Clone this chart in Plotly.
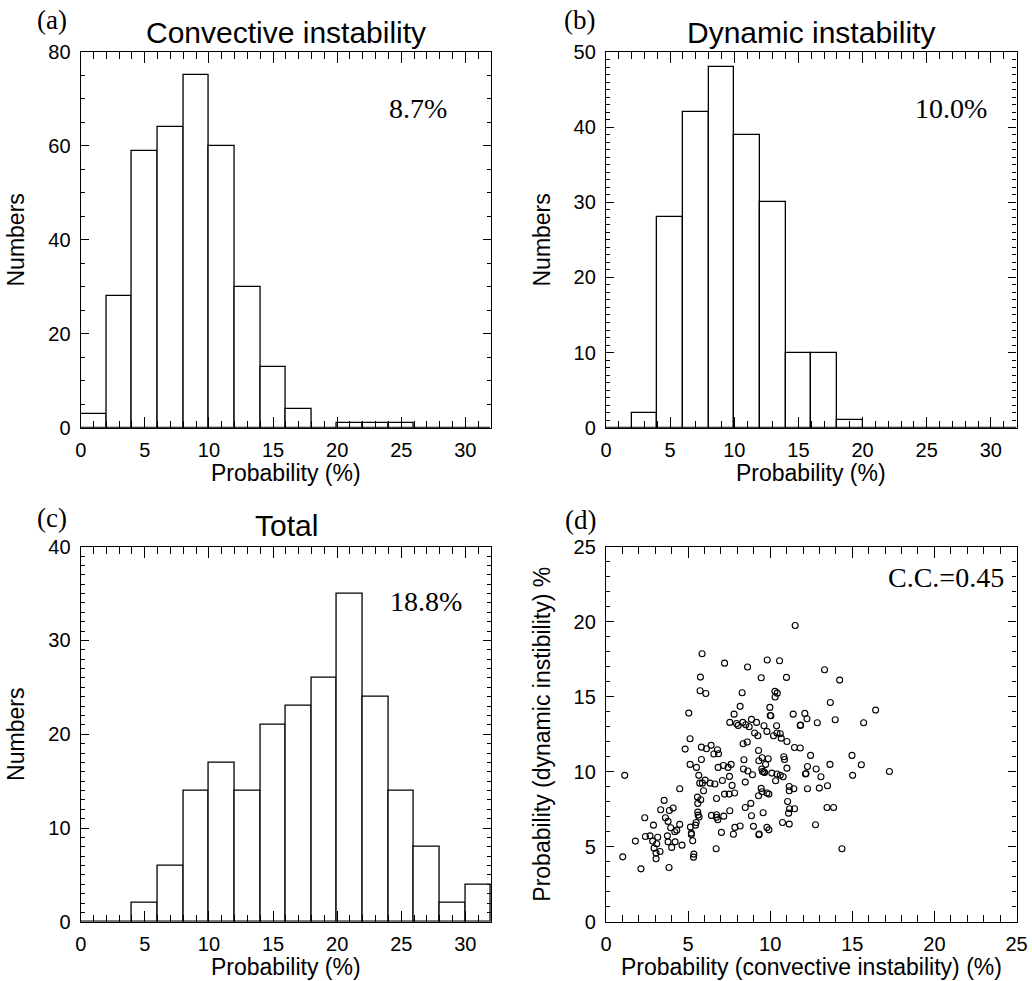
import plotly.graph_objects as go

# ---------------- data ----------------
bin_centers = [1, 3, 5, 7, 9, 11, 13, 15, 17, 19, 21, 23, 25, 27, 29, 31]
conv_counts = [3, 28, 59, 64, 75, 60, 30, 13, 4, 0, 1, 1, 1, 0, 0, 0]
dyn_counts = [0, 2, 28, 42, 48, 39, 30, 10, 10, 1, 0, 0, 0, 0, 0, 0]
total_counts = [0, 0, 2, 6, 14, 17, 14, 21, 23, 26, 35, 24, 14, 8, 2, 4]

conv_prob = [11.52, 5.85, 7.22, 9.82, 10.57, 8.62, 13.31, 5.75, 9.45, 10.99, 14.23, 5.73, 6.08, 8.29,
             10.29, 10.43, 10.30, 13.66, 8.17, 9.98, 16.42, 5.04, 7.80, 10.04, 10.00, 11.40, 12.11, 7.54,
             7.95, 8.05, 8.33, 8.51, 8.72, 8.86, 9.17, 9.62, 10.39, 11.83, 11.85, 12.24, 12.87, 13.96,
             15.69,
             9.05, 9.25, 9.80, 10.20, 10.41, 10.61, 10.67, 11.02, 5.12, 8.35, 8.60, 4.82, 5.81, 6.12,
             6.40, 6.79, 6.57, 6.85, 9.29, 11.48, 11.83, 12.46, 14.98, 5.81, 8.40, 9.51, 9.88, 9.31,
             10.83, 10.87, 1.14, 5.12, 5.51, 6.83, 7.15, 7.44, 7.62, 8.37, 8.64, 8.92, 9.72, 9.49,
             9.53, 9.62, 9.66, 10.10, 10.41, 10.61, 10.79, 11.02, 12.15, 12.18, 12.27, 12.80, 13.09,
             13.64, 15.02, 15.55, 5.65, 5.71, 5.87, 6.04, 6.34, 6.63, 7.09, 7.52, 7.68, 8.48, 10.33,
             11.16, 11.44, 11.16, 12.27, 12.99, 13.49, 4.49, 5.94, 7.22, 7.50, 7.83, 9.45, 9.51, 9.80,
             9.92, 9.29, 5.57, 5.77, 5.59, 6.73, 3.54, 8.82, 8.48, 11.06, 11.18, 11.48, 11.12, 13.46,
             13.86, 3.33, 3.86, 4.09, 5.59, 5.61, 5.67, 6.42, 6.73, 6.73, 7.17, 7.54, 8.86, 9.57,
             2.36, 3.62, 3.78, 2.89, 4.49, 3.94, 4.31, 4.19, 5.14, 5.49, 5.45, 5.20, 5.20, 6.81,
             7.85, 8.17, 7.76, 7.03, 8.98, 9.80, 9.92, 9.31, 9.33, 10.75, 11.16, 12.76, 1.79, 2.40,
             2.68, 3.15, 2.84, 3.74, 3.78, 4.63, 5.28, 4.21, 14.37,
             1.02, 2.13, 2.93, 3.05, 3.09, 3.29, 3.05, 3.84, 4.00, 5.35, 5.33, 6.71, 17.26]
dyn_prob = [19.75, 17.87, 17.24, 17.45, 17.40, 16.98, 16.80, 16.31, 16.27, 16.29, 16.11, 15.40, 15.22,
            15.27, 15.36, 15.24, 14.98, 14.62, 14.36, 14.29, 14.11, 13.91, 13.84, 13.73, 13.75, 13.84,
            13.89, 13.29, 13.22, 13.09, 13.29, 13.13, 13.00, 13.49, 13.29, 13.07, 13.07, 13.09, 13.12,
            13.53, 13.27, 13.47, 13.27,
            12.58, 12.40, 12.69, 12.40, 12.58, 12.53, 12.24, 12.02, 12.20, 11.87, 11.98, 11.51, 11.64,
            11.53, 11.76, 11.47, 11.18, 11.20, 11.42, 11.62, 11.58, 11.09, 11.09, 10.82, 10.80, 10.93,
            10.87, 10.73, 11.00, 10.82, 9.76, 10.49, 10.29, 10.29, 10.42, 10.29, 10.49, 10.18, 10.05,
            9.80, 10.49, 10.18, 10.02, 9.98, 9.95, 9.91, 9.85, 9.76, 9.67, 10.24, 9.85, 9.88, 10.35,
            10.18, 9.67, 10.49, 9.76, 10.47, 9.76, 9.24, 9.24, 9.44, 9.24, 9.18, 9.42, 9.69, 9.09,
            9.31, 9.40, 9.02, 8.87, 8.73, 8.87, 8.91, 9.07, 8.87, 8.73, 8.51, 8.51, 8.58, 8.89, 8.67,
            8.58, 8.51, 8.40, 8.31, 8.13, 7.89, 8.22, 8.09, 7.89, 7.62, 8.02, 7.53, 7.53, 7.24, 7.62,
            7.62, 7.47, 7.42, 7.58, 7.31, 7.11, 6.98, 7.09, 7.13, 6.96, 7.04, 7.40, 7.07, 7.27,
            6.93, 6.93, 6.69, 6.44, 6.49, 6.27, 6.11, 6.00, 6.31, 6.62, 6.44, 5.91, 5.82, 6.80,
            6.29, 6.38, 5.84, 5.96, 6.36, 6.29, 6.13, 5.80, 5.85, 6.62, 6.51, 6.47, 5.38, 5.69,
            5.73, 5.64, 5.38, 5.73, 5.33, 5.11, 5.40, 5.33, 4.87,
            4.33, 3.53, 4.91, 4.58, 5.20, 4.69, 4.20, 3.62, 4.96, 4.51, 4.31, 4.87, 10.02]

x_titles = ["Probability (%)", "Probability (%)", "Probability (%)",
            "Probability (convective instability) (%)"]
y_titles = ["Numbers", "Numbers", "Numbers", "Probability (dynamic instibility) %"]

# ---------------- figure ----------------
W, H = 1032, 981
SANS = "Liberation Sans, Arial, Helvetica, sans-serif"
SERIF = "Liberation Serif, Times New Roman, serif"

def px_x(p):
    return p / W

def px_y(p):
    return 1 - p / H

bar_style = dict(marker=dict(color="white", line=dict(color="black", width=1.3)), width=2,
                 showlegend=False, hoverinfo="x+y")

fig = go.Figure()
fig.add_trace(go.Bar(x=bin_centers, y=conv_counts, xaxis="x", yaxis="y", **bar_style))
fig.add_trace(go.Bar(x=bin_centers, y=dyn_counts, xaxis="x2", yaxis="y2", **bar_style))
fig.add_trace(go.Bar(x=bin_centers, y=total_counts, xaxis="x3", yaxis="y3", **bar_style))
fig.add_trace(go.Scatter(x=conv_prob, y=dyn_prob, mode="markers", xaxis="x4", yaxis="y4",
                         marker=dict(symbol="circle-open", size=6, color="black", line=dict(width=1.1)),
                         showlegend=False))

LEFT = (80.7, 491)
RIGHT = (606, 1016.5)
TOP = (52, 427.7)
BOT = (546.7, 921.8)
left_dom = [px_x(LEFT[0]), px_x(LEFT[1])]
right_dom = [px_x(RIGHT[0]), px_x(RIGHT[1])]
top_dom = [px_y(TOP[1]), px_y(TOP[0])]
bot_dom = [px_y(BOT[1]), px_y(BOT[0])]

tickfont = dict(family=SANS, size=20, color="black")
titlefont = dict(family=SANS, size=23, color="black")


def xax(domain, anchor, rng, dtick):
    return dict(domain=domain, anchor=anchor, range=rng, dtick=dtick, tick0=0,
                showline=True, linecolor="black", linewidth=1.3, mirror="allticks",
                ticks="inside", ticklen=11, tickwidth=1.2, tickcolor="black",
                minor=dict(dtick=1, ticks="inside", ticklen=7, tickwidth=1.1, tickcolor="black"),
                showgrid=False, zeroline=False, tickfont=tickfont, ticklabelstandoff=4)


def yax(domain, anchor, rng, dtick, mdtick, title):
    return dict(domain=domain, anchor=anchor, range=rng, dtick=dtick, tick0=0,
                showline=True, linecolor="black", linewidth=1.3, mirror="allticks",
                ticks="inside", ticklen=8, tickwidth=1.2, tickcolor="black",
                minor=dict(dtick=mdtick, ticks="inside", ticklen=4, tickwidth=1.1, tickcolor="black"),
                showgrid=False, zeroline=False, tickfont=tickfont, ticklabelstandoff=5,
                title=dict(text=title, font=titlefont))


fig.update_layout(
    template="none",
    width=W, height=H, margin=dict(l=0, r=0, t=0, b=0),
    paper_bgcolor="white", plot_bgcolor="white", bargap=0, showlegend=False,
    xaxis=xax(left_dom, "y", [0, 32], 5),
    yaxis=yax(top_dom, "x", [0, 80], 20, 5, y_titles[0]),
    xaxis2=xax(right_dom, "y2", [0, 32], 5),
    yaxis2=yax(top_dom, "x2", [0, 50], 10, 1, y_titles[1]),
    xaxis3=xax(left_dom, "y3", [0, 32], 5),
    yaxis3=yax(bot_dom, "x3", [0, 40], 10, 1, y_titles[2]),
    xaxis4=xax(right_dom, "y4", [0, 25], 5),
    yaxis4=yax(bot_dom, "x4", [0, 25], 5, 1, y_titles[3]),
)

def ann(text, x, y, font, size, yanchor="middle"):
    fig.add_annotation(text=text, x=px_x(x), y=px_y(y), xref="paper", yref="paper",
                       xanchor="center", yanchor=yanchor, showarrow=False, borderpad=0,
                       font=dict(family=font, size=size, color="black"))

# x-axis titles (placed under each frame)
for title, (xl, xr), (yt, yb) in zip(x_titles, [LEFT, RIGHT, LEFT, RIGHT], [TOP, TOP, BOT, BOT]):
    ann(title, (xl + xr) / 2, yb + 59.2, SANS, 23, yanchor="bottom")

# panel titles
ann("Convective instability", 286, 33, SANS, 30)
ann("Dynamic instability", 811, 33, SANS, 30)
ann("Total", 286, 525, SANS, 30)
# panel letters
ann("(a)", 52, 20, SERIF, 27)
ann("(b)", 579, 20, SERIF, 27)
ann("(c)", 52, 518, SERIF, 27)
ann("(d)", 580, 520, SERIF, 27)
# statistics
ann("8.7%", 418, 108, SERIF, 28)
ann("10.0%", 951, 108, SERIF, 28)
ann("18.8%", 426, 601, SERIF, 28)
ann("C.C.=0.45", 946, 577, SERIF, 28)

fig.write_html("out.html")
